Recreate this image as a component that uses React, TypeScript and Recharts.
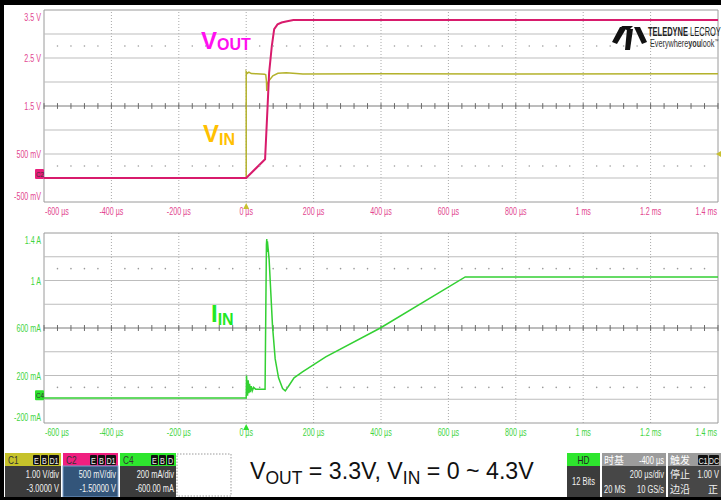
import React from 'react';
import { LineChart, Line, XAxis, YAxis, ReferenceLine, ReferenceDot } from 'recharts';

const FONT = '"Liberation Sans", Arial, sans-serif';
const CJK = '"Noto Sans CJK SC", sans-serif';

// ---- axes ----
const timeTicks = [-600, -400, -200, 0, 200, 400, 600, 800, 1000, 1200, 1400];
const timeTickLabels = ['-600 µs', '-400 µs', '-200 µs', '0 µs', '200 µs', '400 µs', '600 µs', '800 µs', '1 ms', '1.2 ms', '1.4 ms'];
const minorTimes: number[] = [];
for (let t = -600; t <= 1400; t += 40) minorTimes.push(t);

const voltTicks = [-0.5, 0.5, 1.5, 2.5, 3.5];
const voltTickLabels = ['-500 mV', '500 mV', '1.5 V', '2.5 V', '3.5 V'];
const voltDivisions = [-0.5, 0, 0.5, 1, 1.5, 2, 2.5, 3, 3.5];
const voltDotRows = [2.75, 0.25];

const ampTicks = [-0.2, 0.2, 0.6, 1.0, 1.4];
const ampTickLabels = ['-200 mA', '200 mA', '600 mA', '1 A', '1.4 A'];
const ampDivisions = [-0.2, 0, 0.2, 0.4, 0.6, 0.8, 1.0, 1.2, 1.4];
const ampDotRows = [1.1, 0.1];

// ---- series (time in µs) ----
const voutTime = [-600, 0, 56, 63.5, 68, 76, 83, 93, 105, 118, 140, 1400];
const voutVolts = [0, 0, 0.39, 1.5, 2.19, 2.75, 3.1, 3.2, 3.24, 3.26, 3.29, 3.29];

const vinTime = [-600, 0, 0, 3, 8, 15, 30, 55, 58, 60, 61, 62, 64, 69, 79, 94, 119, 168, 400, 800, 1400];
const vinVolts = [0, 0, 4.43, 4.36, 4.41, 4.35, 4.34, 4.32, 4.3, 4.05, 3.63, 3.9, 3.96, 4.08, 4.26, 4.36, 4.39, 4.33, 4.34, 4.33, 4.34];

const iinTime = [-600, 0, 1, 4, 6, 8, 10, 12, 15, 18, 22, 28, 56, 60, 61, 62, 63, 64, 68, 73, 78, 86, 96, 108, 116, 128, 142, 167, 236, 398, 650, 1400];
const iinAmps = [0.01, 0.01, 0.2, 0.03, 0.16, 0.05, 0.13, 0.06, 0.11, 0.07, 0.1, 0.085, 0.085, 1.3, 1.35, 1.24, 1.33, 1.3, 1.18, 0.9, 0.62, 0.34, 0.18, 0.09, 0.07, 0.12, 0.18, 0.23, 0.357, 0.6, 1.03, 1.03];

const voutData = voutTime.map((t, i) => ({ t, v: voutVolts[i] }));
const vinData = vinTime.map((t, i) => ({ t, v: vinVolts[i] }));
const iinData = iinTime.map((t, i) => ({ t, v: iinAmps[i] }));

const PINK_LBL = '#e2468f';
const GREEN_LBL = '#3fd43f';

function NText({ x, y, children, anchor = 'start', size = 10.5, fill = '#fff', weight = 400, sx = 0.68, family = FONT }: any) {
  return (
    <text transform={`translate(${x} ${y}) scale(${sx} 1)`} textAnchor={anchor} fontSize={size} fill={fill} fontWeight={weight} fontFamily={family}>
      {children}
    </text>
  );
}

const makeXTick = (color: string) => (props: any) => {
  const { x, y, payload } = props;
  const idx = timeTicks.indexOf(payload.value);
  const last = timeTicks.length - 1;
  const anchor = idx === 0 ? 'start' : idx === last ? 'end' : 'middle';
  const dx = idx === 0 ? 1 : idx === last ? -1 : 0;
  return <NText x={x + dx} y={y + 13} anchor={anchor} fill={color}>{timeTickLabels[idx]}</NText>;
};

const makeYTick = (ticks: number[], labels: string[], color: string) => (props: any) => {
  const { x, y, payload } = props;
  const idx = ticks.indexOf(payload.value);
  const last = ticks.length - 1;
  const dy = idx === last ? 10.5 : idx === 0 ? -2 : 4;
  return <NText x={x} y={y + dy} anchor="end" fill={color}>{labels[idx]}</NText>;
};

function Grid(yId: string, divisions: number[], center: number, dotRows: number[], tickHalf: number) {
  const els: any[] = [];
  timeTicks.forEach((t, i) => {
    const edge = i === 0 || i === timeTicks.length - 1;
    els.push(<ReferenceLine key={'vx' + t} yAxisId={yId} x={t} stroke={edge ? '#9a9a9a' : '#a8a8a8'} strokeDasharray={edge ? undefined : '1 2'} />);
  });
  divisions.forEach((v, i) => {
    const edge = i === 0 || i === divisions.length - 1;
    els.push(<ReferenceLine key={'hy' + v} yAxisId={yId} y={v} stroke={v === center ? '#7a7a7a' : edge ? '#9a9a9a' : '#bdbdbd'} />);
  });
  minorTimes.forEach((t) => {
    els.push(
      <ReferenceLine key={'mt' + t} yAxisId={yId} segment={[{ x: t, y: center - tickHalf }, { x: t, y: center + tickHalf }]} stroke="#6a6a6a" />
    );
  });
  dotRows.forEach((r) => {
    minorTimes.forEach((t) => {
      if (timeTicks.indexOf(t) >= 0) return;
      els.push(<ReferenceDot key={'d' + r + '_' + t} yAxisId={yId} x={t} y={r} r={0.8} fill="#9a9a9a" stroke="none" />);
    });
  });
  return els;
}

const GroundTag = (label: string, color: string) => (p: any) => (
  <g>
    <rect x={p.cx - 9} y={p.cy - 9} width={9} height={10} fill={color} rx={1} />
    <NText x={p.cx - 8} y={p.cy - 1} size={8} fill="#333" sx={0.8}>{label}</NText>
  </g>
);

const TrigArrow = (color: string) => (p: any) => (
  <polygon points={`${p.cx},${p.cy + 1} ${p.cx - 3},${p.cy + 7} ${p.cx + 3},${p.cy + 7}`} fill={color} />
);

const LevelArrow = (color: string) => (p: any) => (
  <polygon points={`${p.cx - 2},${p.cy} ${p.cx + 3},${p.cy - 3} ${p.cx + 3},${p.cy + 3}`} fill={color} />
);

function TopChart() {
  return (
    <LineChart width={721} height={222} margin={{ top: 10, right: 3, bottom: 0, left: 0 }}>
      <XAxis type="number" dataKey="t" domain={[-600, 1400]} ticks={timeTicks} interval={0} axisLine={false} tickLine={false} tickSize={0} tickMargin={0} height={20} tick={makeXTick(PINK_LBL)} allowDataOverflow />
      <YAxis yAxisId="c2" orientation="left" type="number" domain={[-0.5, 3.5]} ticks={voltTicks} interval={0} axisLine={false} tickLine={false} tickSize={0} tickMargin={3} width={44} tick={makeYTick(voltTicks, voltTickLabels, PINK_LBL)} allowDataOverflow />
      <YAxis yAxisId="c1" orientation="right" type="number" domain={[-1, 7]} hide width={0} allowDataOverflow />
      {Grid('c2', voltDivisions, 1.5, voltDotRows, 0.06)}
      <Line yAxisId="c1" data={vinData} dataKey="v" type="linear" stroke="#b4b22c" strokeWidth={1.5} dot={false} isAnimationActive={false} />
      <Line yAxisId="c2" data={voutData} dataKey="v" type="linear" stroke="#d81b6c" strokeWidth={2} dot={false} isAnimationActive={false} />
      <ReferenceDot yAxisId="c2" x={-600} y={0} r={1} ifOverflow="visible" shape={GroundTag('C2', '#e8207c')} />
      <ReferenceDot yAxisId="c2" x={0} y={-0.5} r={1} ifOverflow="visible" shape={TrigArrow('#c8c030')} />
      <ReferenceDot yAxisId="c1" x={1400} y={1} r={1} ifOverflow="visible" shape={LevelArrow('#c8c030')} />
    </LineChart>
  );
}

function BottomChart() {
  return (
    <LineChart width={721} height={222} margin={{ top: 11, right: 3, bottom: 0, left: 0 }}>
      <XAxis type="number" dataKey="t" domain={[-600, 1400]} ticks={timeTicks} interval={0} axisLine={false} tickLine={false} tickSize={0} tickMargin={0} height={21} tick={makeXTick(GREEN_LBL)} allowDataOverflow />
      <YAxis yAxisId="c4" type="number" domain={[-0.2, 1.4]} ticks={ampTicks} interval={0} axisLine={false} tickLine={false} tickSize={0} tickMargin={3} width={44} tick={makeYTick(ampTicks, ampTickLabels, GREEN_LBL)} allowDataOverflow />
      {Grid('c4', ampDivisions, 0.6, ampDotRows, 0.025)}
      <Line yAxisId="c4" data={iinData} dataKey="v" type="linear" stroke="#33d033" strokeWidth={1.5} dot={false} isAnimationActive={false} />
      <ReferenceDot yAxisId="c4" x={-600} y={0} r={1} ifOverflow="visible" shape={GroundTag('C4', '#2ee02e')} />
      <ReferenceDot yAxisId="c4" x={0} y={-0.2} r={1} ifOverflow="visible" shape={TrigArrow('#2ee02e')} />
    </LineChart>
  );
}

function Badge({ x, y, w, label }: any) {
  return (
    <g>
      <rect x={x} y={y} width={w} height={10} fill="#111" rx={1} />
      <NText x={x + w / 2} y={y + 8.5} anchor="middle" size={9} fill="#eee" sx={0.8}>{label}</NText>
    </g>
  );
}

function ChannelBox({ x, w, head, label, badges, l1, l2, body, border }: any) {
  let bx = x + w - 2;
  const bs = [...badges].reverse().map((b: string) => {
    const bw = b.length > 1 ? 10 : 7;
    bx -= bw;
    const el = <Badge key={b} x={bx} y={455} w={bw} label={b} />;
    bx -= 1;
    return el;
  });
  return (
    <g>
      <rect x={x} y={453} width={w} height={13} fill={head} />
      <NText x={x + 3} y={464} size={11} fill="#333" sx={0.75}>{label}</NText>
      {bs}
      <rect x={x} y={466} width={w} height={31} fill={body} stroke={border || 'none'} strokeWidth={border ? 1 : 0} />
      <NText x={x + w - 2} y={478} anchor="end" size={11} fill="#f2f2f2">{l1}</NText>
      <NText x={x + w - 2} y={492} anchor="end" size={11} fill="#f2f2f2">{l2}</NText>
    </g>
  );
}

function Overlay() {
  return (
    <svg width={721} height={500} style={{ position: 'absolute', left: 0, top: 0, pointerEvents: 'none' }}>
      {/* annotations */}
      <text x={201} y={48.5} fontSize={24} fontWeight={700} fill="#ff10f0" fontFamily={FONT}>
        V<tspan fontSize={16} dy={1.5}>OUT</tspan>
      </text>
      <text x={203} y={142} fontSize={24} fontWeight={700} fill="#ffc000" fontFamily={FONT}>
        V<tspan fontSize={16} dy={3}>IN</tspan>
      </text>
      <text x={211} y={322} fontSize={24} fontWeight={700} fill="#22e822" fontFamily={FONT}>
        I<tspan fontSize={16} dy={3}>IN</tspan>
      </text>

      {/* logo */}
      <g fill="#111">
        <polygon points="621,26 633,26 628,31" />
        <polygon points="620,27 627,27 617,44 612,42" />
        <polygon points="627,29 633,29 630,50 625,50" />
        <polygon points="634,27 640,27 647,42 642,44" />
      </g>
      <text transform="translate(648 36) scale(0.6 1)" fontSize={12.5} fontFamily={FONT} fill="#222">
        <tspan fontWeight={700}>TELEDYNE </tspan>
        <tspan>LECROY</tspan>
      </text>
      <text transform="translate(650 47) scale(0.66 1)" fontSize={11} fontFamily={FONT} fill="#333">
        Everywhere<tspan fontWeight={700}>you</tspan>look<tspan fontSize={6} dy={-4}>™</tspan>
      </text>

      {/* status bar */}
      <ChannelBox x={5} w={56} head="#c6c22a" label="C1" badges={['E', 'B', 'D1']} l1="1.00 V/div" l2="-3.0000 V" body="#3c3c3c" />
      <ChannelBox x={63} w={55} head="#f01f80" label="C2" badges={['E', 'B', 'D1']} l1="500 mV/div" l2="-1.50000 V" body="#33557a" border="#7aa0cc" />
      <ChannelBox x={120} w={56} head="#2ee62e" label="C4" badges={['E', 'B', 'D']} l1="200 mA/div" l2="-600.00 mA" body="#3c3c3c" />
      <rect x={177} y={454} width={54} height={42} fill="none" stroke="#9a9a9a" strokeDasharray="1.5 1.5" />

      <text x={250} y={479} fontSize={23.2} fontFamily={FONT} fill="#111">
        V<tspan fontSize={17.5} dy={5}>OUT</tspan>
        <tspan dy={-5}> = 3.3V, V</tspan>
        <tspan fontSize={17.5} dy={5}>IN</tspan>
        <tspan dy={-5}> = 0 ~ 4.3V</tspan>
      </text>

      {/* HD box */}
      <rect x={567} y={453} width={33} height={13} fill="#2ee62e" />
      <NText x={583.5} y={464} anchor="middle" size={11} fill="#222" sx={0.75}>HD</NText>
      <rect x={567} y={466} width={33} height={31} fill="#3c3c3c" />
      <NText x={583.5} y={485} anchor="middle" size={11} fill="#f2f2f2">12 Bits</NText>

      {/* timebase */}
      <rect x={602} y={453} width={64} height={13} fill="#9c9c9c" />
      <text x={604} y={464} fontSize={10} fill="#fff" fontFamily={CJK}>时基</text>
      <NText x={664} y={464} anchor="end" size={11} fill="#fff">-400 µs</NText>
      <rect x={602} y={466} width={64} height={31} fill="#474747" />
      <NText x={664} y={478} anchor="end" size={11} fill="#f2f2f2">200 µs/div</NText>
      <NText x={604} y={493} size={11} fill="#f2f2f2">20 MS</NText>
      <NText x={664} y={493} anchor="end" size={11} fill="#f2f2f2">10 GS/s</NText>

      {/* trigger */}
      <rect x={668} y={453} width={53} height={13} fill="#9c9c9c" />
      <text x={670} y={464} fontSize={10} fill="#fff" fontFamily={CJK}>触发</text>
      <Badge x={698} y={455} w={10} label="C1" />
      <Badge x={709} y={455} w={10} label="DC" />
      <rect x={668} y={466} width={53} height={31} fill="#474747" />
      <text x={670} y={478} fontSize={10} fill="#f2f2f2" fontFamily={CJK}>停止</text>
      <NText x={719} y={478} anchor="end" size={11} fill="#f2f2f2">1.00 V</NText>
      <text x={670} y={493} fontSize={10} fill="#f2f2f2" fontFamily={CJK}>边沿</text>
      <text x={718} y={493} fontSize={10} fill="#f2f2f2" fontFamily={CJK} textAnchor="end">正</text>

      {/* frame */}
      <rect x={0} y={0} width={721} height={5} fill="#000" />
      <rect x={0} y={0} width={4} height={500} fill="#000" />
      <rect x={0} y={497} width={721} height={3} fill="#000" />
    </svg>
  );
}

export default function App() {
  return (
    <div style={{ position: 'absolute', left: 0, top: 0, width: 721, height: 500, background: '#fff', fontFamily: FONT, overflow: 'hidden' }}>
      <div style={{ position: 'absolute', left: 0, top: 0 }}>
        <TopChart />
      </div>
      <div style={{ position: 'absolute', left: 0, top: 222 }}>
        <BottomChart />
      </div>
      <Overlay />
    </div>
  );
}
